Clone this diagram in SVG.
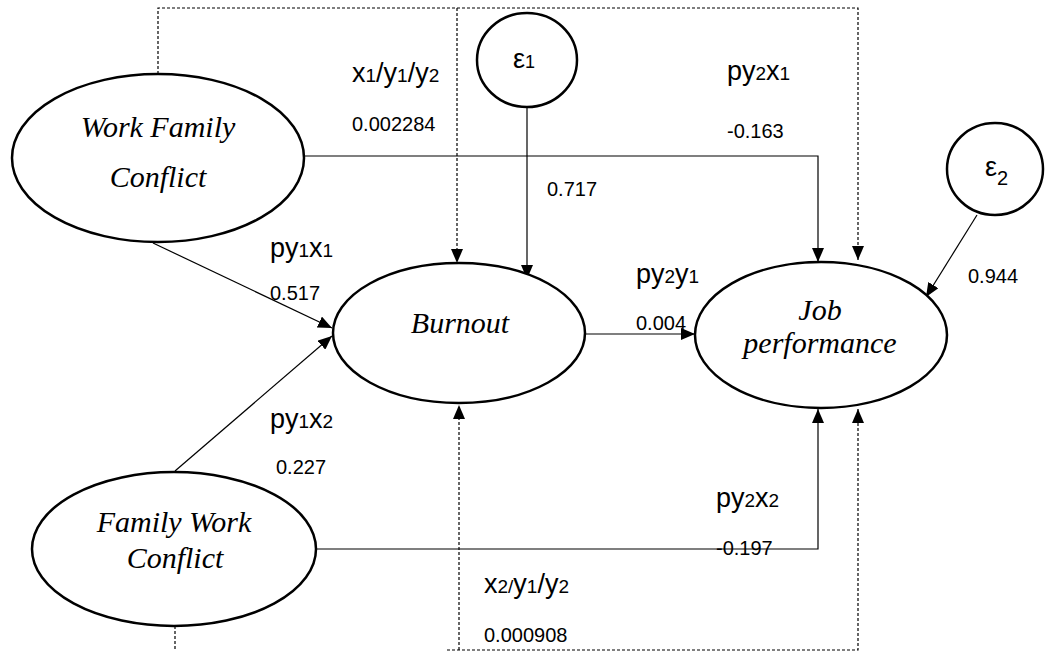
<svg xmlns="http://www.w3.org/2000/svg" width="1045" height="651" viewBox="0 0 1045 651">
<defs>
<style>
.node{fill:#fff;stroke:#000;stroke-width:2.5}
.nt{font-family:"Liberation Serif",serif;font-style:italic;font-size:30px;fill:#000;text-anchor:middle}
.lab{font-family:"Liberation Sans",Arial,sans-serif;font-size:27px;fill:#000}
.num{font-family:"Liberation Sans",Arial,sans-serif;font-size:20px;fill:#000}
.sm{font-size:19px}
.con{fill:none;stroke:#000;stroke-width:1.2}
.dash{fill:none;stroke:#000;stroke-width:1.2;stroke-dasharray:3,2}
</style>
<marker id="ah" viewBox="0 0 14 12" refX="14" refY="6" markerWidth="14" markerHeight="12" markerUnits="userSpaceOnUse" orient="auto">
<path d="M0,0 L14,6 L0,12 z" fill="#000"/>
</marker>
</defs>
<rect width="1045" height="651" fill="#fff"/>

<g id="connectors">
<path class="dash" d="M158,74 V8 H858 V260" marker-end="url(#ah)"/>
<path class="dash" d="M457,8 V263" marker-end="url(#ah)"/>
<path class="dash" d="M175,626 V651"/>
<path class="dash" d="M459,650 V405" marker-end="url(#ah)"/>
<path class="dash" d="M447,650 H858 V409" marker-end="url(#ah)" stroke="#444"/>
<path class="con" d="M153,243 L332,328" marker-end="url(#ah)"/>
<path class="con" d="M175,471 L332,336" marker-end="url(#ah)"/>
<path class="con" d="M527,107 V279" marker-end="url(#ah)"/>
<path class="con" d="M305,156 H818 V262" marker-end="url(#ah)"/>
<path class="con" d="M317,549 H818 V409" marker-end="url(#ah)"/>
<path class="con" d="M585,334 H695" marker-end="url(#ah)"/>
<path class="con" d="M977,215 L926,297" marker-end="url(#ah)"/>
</g>

<g id="wfc">
<ellipse class="node" cx="158" cy="158" rx="146" ry="84"/>
<text class="nt" x="158" y="137">Work Family</text>
<text class="nt" x="158" y="187">Conflict</text>
</g>
<g id="fwc">
<ellipse class="node" cx="174" cy="549" rx="142" ry="77"/>
<text class="nt" x="174" y="532">Family Work</text>
<text class="nt" x="175" y="568">Conflict</text>
</g>
<g id="burnout">
<ellipse class="node" cx="459" cy="333" rx="126" ry="70"/>
<text class="nt" x="460" y="333">Burnout</text>
</g>
<g id="job">
<ellipse class="node" cx="821" cy="335" rx="126" ry="73"/>
<text class="nt" x="820" y="320" font-size="27">Job</text>
<text class="nt" x="820" y="353" font-size="27">performance</text>
</g>
<g id="e1">
<ellipse class="node" cx="527" cy="60" rx="50" ry="47"/>
<text class="lab" x="513" y="68" font-size="26">ε<tspan font-size="18">1</tspan></text>
</g>
<g id="e2">
<ellipse class="node" cx="995" cy="169" rx="48" ry="46"/>
<text class="lab" x="985" y="176" font-size="26">ε<tspan font-size="20" dy="9">2</tspan></text>
</g>

<g id="labels">
<text class="lab" x="352" y="82">x<tspan class="sm">1</tspan>/y<tspan class="sm">1</tspan>/y<tspan class="sm">2</tspan></text>
<text class="num" x="352" y="131">0.002284</text>
<text class="lab" x="727" y="80">py<tspan class="sm">2</tspan>x<tspan class="sm">1</tspan></text>
<text class="num" x="727" y="138">-0.163</text>
<text class="num" x="547" y="196" font-size="17">0.717</text>
<text class="lab" x="270" y="257">py<tspan class="sm">1</tspan>x<tspan class="sm">1</tspan></text>
<text class="num" x="270" y="300">0.517</text>
<text class="lab" x="636" y="283">py<tspan class="sm">2</tspan>y<tspan class="sm">1</tspan></text>
<text class="num" x="636" y="330">0.004</text>
<text class="num" x="968" y="283" font-size="17">0.944</text>
<text class="lab" x="270" y="428">py<tspan class="sm">1</tspan>x<tspan class="sm">2</tspan></text>
<text class="num" x="276" y="474">0.227</text>
<text class="lab" x="716" y="507">py<tspan class="sm">2</tspan>x<tspan class="sm">2</tspan></text>
<text class="num" x="716" y="555">-0.197</text>
<text class="lab" x="484" y="593">x<tspan class="sm">2/</tspan>y<tspan class="sm">1</tspan>/y<tspan class="sm">2</tspan></text>
<text class="num" x="484" y="642">0.000908</text>
</g>
</svg>
